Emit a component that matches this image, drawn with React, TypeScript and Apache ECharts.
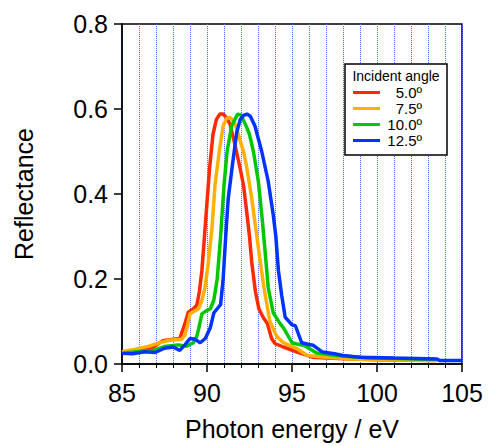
import React, { useEffect, useRef } from "react";
import * as echarts from "echarts";

const seriesNames = ["5.0º", "7.5º", "10.0º", "12.5º"];
const seriesColors = ["#ff2a00", "#ffb000", "#00c800", "#0033ff"];

const angle50: [number, number][] = [
  [85.0, 0.027], [85.5, 0.028], [86.0, 0.031], [86.5, 0.035], [86.9, 0.041], [87.4, 0.055],
  [88.0, 0.058], [88.4, 0.06], [88.7, 0.095], [88.9, 0.122], [89.2, 0.13], [89.4, 0.138],
  [89.55, 0.17], [89.7, 0.22], [89.85, 0.3], [90.0, 0.38], [90.15, 0.46], [90.35, 0.54],
  [90.55, 0.575], [90.75, 0.588], [90.95, 0.588], [91.1, 0.582], [91.35, 0.565], [91.65, 0.515],
  [91.95, 0.46], [92.15, 0.42], [92.33, 0.36], [92.5, 0.3], [92.63, 0.24], [92.85, 0.17],
  [93.05, 0.13], [93.3, 0.11], [93.55, 0.095], [93.8, 0.06], [94.0, 0.048], [94.5, 0.04],
  [95.3, 0.028], [96.2, 0.016], [97.0, 0.014], [98.5, 0.012], [100.0, 0.01], [102.0, 0.009],
  [103.5, 0.008],
];

const angle75: [number, number][] = [
  [85.0, 0.029], [85.8, 0.035], [86.6, 0.042], [87.2, 0.05], [87.8, 0.056], [88.5, 0.058],
  [88.7, 0.068], [88.85, 0.09], [89.0, 0.118], [89.25, 0.124], [89.5, 0.13], [89.7, 0.15],
  [89.88, 0.18], [90.05, 0.23], [90.28, 0.314], [90.47, 0.42], [90.72, 0.5], [90.95, 0.56],
  [91.15, 0.578], [91.35, 0.58], [91.6, 0.57], [91.85, 0.54], [91.95, 0.525], [92.15, 0.5],
  [92.35, 0.46], [92.63, 0.39], [92.9, 0.31], [93.1, 0.25], [93.35, 0.18], [93.7, 0.1],
  [94.1, 0.065], [94.5, 0.05], [95.3, 0.036], [95.9, 0.02], [97.0, 0.016], [98.5, 0.012],
  [100.0, 0.01], [103.5, 0.008],
];

const angle100: [number, number][] = [
  [85.0, 0.025], [85.8, 0.029], [86.75, 0.031], [87.5, 0.041], [88.3, 0.045], [88.8, 0.042],
  [89.2, 0.05], [89.4, 0.065], [89.55, 0.09], [89.7, 0.118], [89.95, 0.125], [90.2, 0.13],
  [90.4, 0.15], [90.6, 0.2], [90.8, 0.3], [91.0, 0.42], [91.18, 0.5], [91.45, 0.56],
  [91.8, 0.588], [92.0, 0.586], [92.3, 0.56], [92.5, 0.54], [92.73, 0.5], [93.02, 0.43],
  [93.25, 0.34], [93.45, 0.25], [93.6, 0.18], [93.9, 0.12], [94.3, 0.095], [94.5, 0.085],
  [95.0, 0.05], [95.5, 0.045], [95.7, 0.044], [96.45, 0.026], [97.6, 0.02], [99.6, 0.014],
  [103.4, 0.011],
];

const angle125: [number, number][] = [
  [85.0, 0.025], [85.6, 0.024], [86.35, 0.029], [86.95, 0.027], [87.5, 0.037], [88.0, 0.04],
  [88.4, 0.032], [88.7, 0.045], [89.0, 0.06], [89.3, 0.058], [89.6, 0.05], [89.9, 0.06],
  [90.2, 0.086], [90.4, 0.12], [90.6, 0.13], [90.8, 0.14], [90.95, 0.2], [91.1, 0.3],
  [91.25, 0.39], [91.5, 0.47], [91.75, 0.545], [91.95, 0.575], [92.15, 0.585], [92.35, 0.588],
  [92.55, 0.583], [92.82, 0.56], [93.22, 0.5], [93.6, 0.43], [93.9, 0.35], [94.05, 0.3],
  [94.2, 0.22], [94.4, 0.16], [94.6, 0.11], [95.0, 0.092], [95.2, 0.09], [95.57, 0.05],
  [96.0, 0.046], [96.25, 0.044], [96.8, 0.028], [97.5, 0.024], [98.0, 0.02], [99.0, 0.016],
  [101.0, 0.014], [103.5, 0.012], [103.7, 0.008], [105.0, 0.008],
];

const allSeries = [angle50, angle75, angle100, angle125];

const FONT = "'Liberation Sans', Arial, Helvetica, sans-serif";
const GRID_BLUE = "#3a78ff";

export default function App() {
  const ref = useRef<HTMLDivElement>(null);
  useEffect(() => {
    if (!ref.current) return;
    const chart = echarts.init(ref.current, undefined, { renderer: "svg" });
    const dotted = { color: GRID_BLUE, type: "dotted" as const, width: 1 };
    chart.setOption({
      animation: false,
      backgroundColor: "#ffffff",
      textStyle: { fontFamily: FONT },
      grid: {
        left: 122,
        right: 26,
        top: 24,
        bottom: 82,
        show: true,
        borderColor: "#000",
        borderWidth: 1.5,
        backgroundColor: "transparent",
      },
      xAxis: {
        type: "value",
        min: 85,
        max: 105,
        interval: 5,
        name: "Photon energy / eV",
        nameLocation: "middle",
        nameGap: 52,
        nameTextStyle: { fontSize: 25, color: "#000", fontFamily: FONT },
        axisLine: { show: true, onZero: false, lineStyle: { color: "#000", width: 1.5 } },
        axisTick: { show: true, inside: false, length: 8, lineStyle: { color: "#000", width: 1.5 } },
        minorTick: { show: true, splitNumber: 5, length: 4, lineStyle: { color: "#000", width: 1 } },
        axisLabel: { fontSize: 25, color: "#000", margin: 16, fontFamily: FONT },
        splitLine: { show: true, lineStyle: dotted },
        minorSplitLine: { show: true, lineStyle: dotted },
      },
      yAxis: {
        type: "value",
        min: 0,
        max: 0.8,
        interval: 0.2,
        name: "Reflectance",
        nameLocation: "middle",
        nameGap: 86,
        nameTextStyle: { fontSize: 25, color: "#000", fontFamily: FONT },
        axisLine: { show: true, onZero: false, lineStyle: { color: "#000", width: 1.5 } },
        axisTick: { show: true, inside: false, length: 8, lineStyle: { color: "#000", width: 1.5 } },
        axisLabel: {
          fontSize: 25,
          color: "#000",
          margin: 14,
          fontFamily: FONT,
          formatter: (v: number) => v.toFixed(1),
        },
        splitLine: { show: false },
      },
      graphic: [
        {
          type: "rect",
          z: 10,
          shape: { x: 345, y: 64, width: 102, height: 91 },
          style: { fill: "#fff", stroke: "#000", lineWidth: 1.5 },
        },
        {
          type: "text",
          z: 11,
          x: 396,
          y: 76,
          style: {
            text: "Incident angle",
            fontSize: 14,
            fontFamily: FONT,
            fill: "#000",
            align: "center",
            verticalAlign: "middle",
          },
        },
      ],
      legend: {
        z: 12,
        orient: "vertical",
        left: 353,
        top: 85,
        padding: 0,
        itemWidth: 27,
        itemHeight: 3,
        itemGap: 1,
        icon: "rect",
        data: seriesNames,
        formatter: (name: string) => `{a|${name}}`,
        textStyle: {
          fontFamily: FONT,
          fontSize: 15,
          lineHeight: 14,
          color: "#000",
          rich: { a: { width: 37, align: "right", fontSize: 15, fontFamily: FONT, lineHeight: 14 } },
        },
      },
      series: allSeries.map((d, i) => ({
        name: seriesNames[i],
        type: "line",
        data: d,
        showSymbol: false,
        symbol: "none",
        lineStyle: { color: seriesColors[i], width: 3.5 },
        itemStyle: { color: seriesColors[i] },
        z: 3 + i,
      })),
    });
    return () => chart.dispose();
  }, []);
  return (
    <div
      ref={ref}
      style={{ position: "fixed", left: 0, top: 0, width: 488, height: 446 }}
    />
  );
}
